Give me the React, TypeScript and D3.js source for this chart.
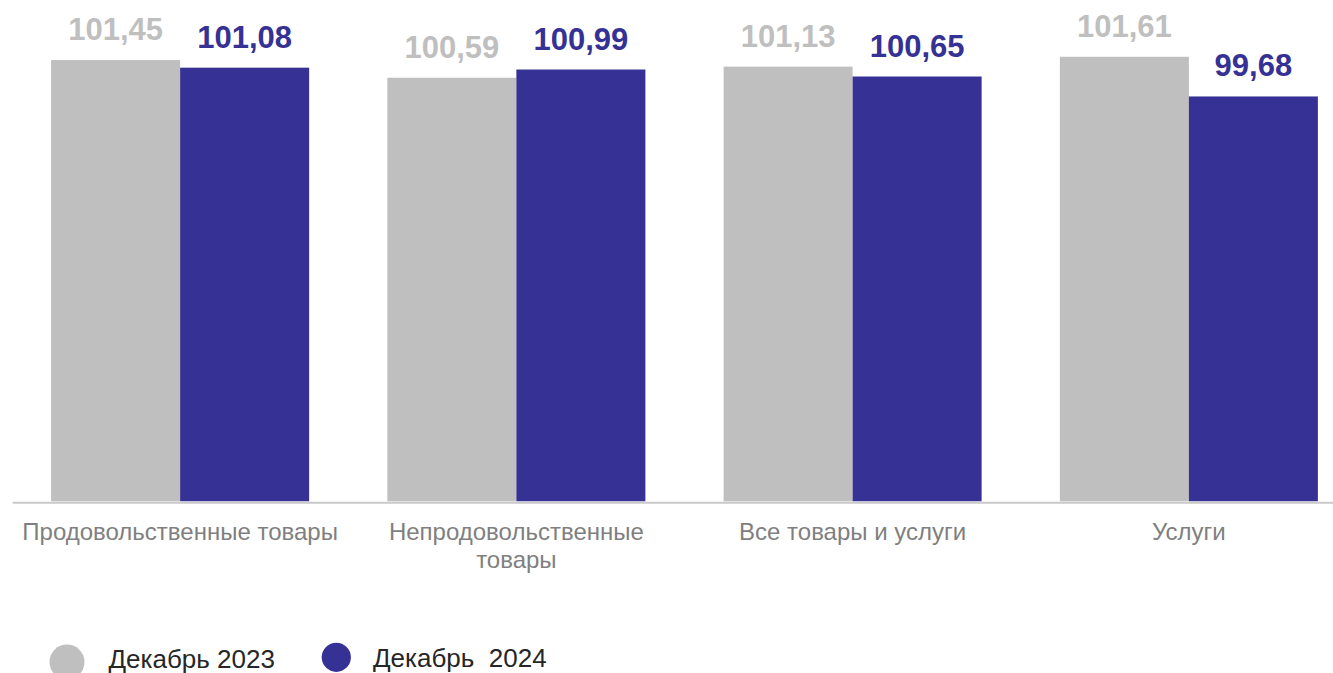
import React from "react";
import * as d3 from "d3";

const categories = [
  "Продовольственные товары",
  "Непродовольственные товары",
  "Все товары и услуги",
  "Услуги",
];
const seriesNames = ["Декабрь 2023", "Декабрь  2024"];
const dec2023 = [101.45, 100.59, 101.13, 101.61];
const dec2024 = [101.08, 100.99, 100.65, 99.68];
const seriesColors = ["#bfbfbf", "#363194"];

const W = 1333;
const H = 673;
const FONT = "'Liberation Sans', Arial, sans-serif";

function wrapLabel(s: string): string[] {
  if (s.length <= 24) return [s];
  const i = s.lastIndexOf(" ");
  return [s.slice(0, i), s.slice(i + 1)];
}

export default function App() {
  const series = [dec2023, dec2024];
  const x0 = d3
    .scaleBand<string>()
    .domain(categories)
    .range([12, 1357])
    .paddingInner(0.2327)
    .paddingOuter(0.11635);
  const x1 = d3
    .scaleBand<number>()
    .domain([0, 1])
    .range([0, x0.bandwidth()])
    .padding(0);
  const y = d3.scaleLinear().domain([80, 104]).range([501.3, 7.6]);

  return (
    <svg
      width={W}
      height={H}
      style={{ position: "absolute", left: 0, top: 0, background: "#fff" }}
      fontFamily={FONT}
    >
      {categories.map((c, i) => (
        <g key={c} transform={`translate(${x0(c)},0)`}>
          {series.map((s, k) => (
            <rect
              key={k}
              x={x1(k)}
              y={y(s[i])}
              width={x1.bandwidth()}
              height={y(80) - y(s[i])}
              fill={seriesColors[k]}
            />
          ))}
          {series.map((s, k) => (
            <text
              key={"l" + k}
              x={(x1(k) as number) + x1.bandwidth() / 2}
              y={y(s[i]) - 20}
              textAnchor="middle"
              fontSize={31}
              fontWeight="bold"
              fill={seriesColors[k]}
            >
              {s[i].toFixed(2).replace(".", ",")}
            </text>
          ))}
        </g>
      ))}
      <line x1={12.7} x2={W} y1={502.7} y2={502.7} stroke="#c9c9c9" strokeWidth={2} />
      {categories.map((c) => (
        <text
          key={"c" + c}
          x={(x0(c) as number) + x0.bandwidth() / 2}
          y={540}
          textAnchor="middle"
          fontSize={24}
          fill="#7f7f7f"
        >
          {wrapLabel(c).map((ln, j) => (
            <tspan key={j} x={(x0(c) as number) + x0.bandwidth() / 2} dy={j === 0 ? 0 : 28.3}>
              {ln}
            </tspan>
          ))}
        </text>
      ))}
      <g>
        <circle cx={67} cy={662} r={17.5} fill={seriesColors[0]} />
        <text x={108.5} y={668} fontSize={26} fill="#262626" style={{ whiteSpace: "pre" }}>
          {seriesNames[0]}
        </text>
        <circle cx={336.3} cy={657.3} r={14.6} fill={seriesColors[1]} />
        <text x={373} y={667} fontSize={26} fill="#262626" style={{ whiteSpace: "pre" }}>
          {seriesNames[1]}
        </text>
      </g>
    </svg>
  );
}
